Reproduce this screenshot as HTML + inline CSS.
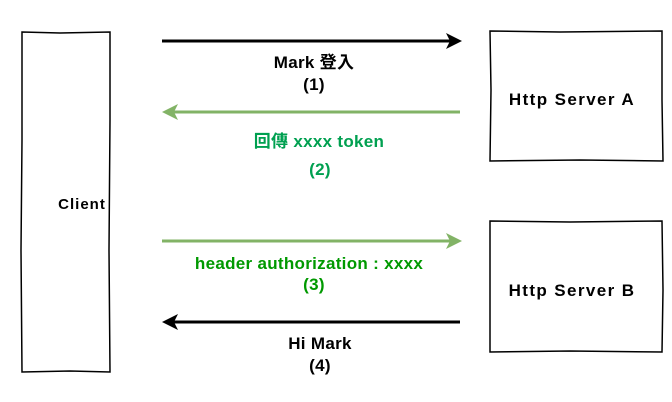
<!DOCTYPE html>
<html><head><meta charset="utf-8"><style>
html,body{margin:0;padding:0;background:#fff;width:672px;height:402px;overflow:hidden}
svg text{font-family:"Liberation Sans","Noto Sans CJK TC",sans-serif;font-weight:bold;font-size:17px;text-anchor:middle;letter-spacing:0.3px}
</style></head><body>
<svg width="672" height="402" xmlns="http://www.w3.org/2000/svg">
<g fill="none" stroke="#000" stroke-width="1.5">
<path d="M22 32 L60 33 L110 32 L110 120 L109 250 L110 372 L70 371 L22 372 L21 250 L22 140 Z"/>
<path d="M490 31 L560 32 L662 31 L662 100 L663 161 L580 160 L490 161 L491 90 Z"/>
<path d="M490 221 L570 222 L662 221 L663 290 L662 352 L570 351 L490 352 L490 290 Z"/>
</g>
<line x1="162" y1="41" x2="452" y2="41" stroke="#000" stroke-width="3"/>
<path d="M462 41 L446 33 L450 41 L446 49 Z" fill="#000"/>
<line x1="170" y1="112" x2="460" y2="112" stroke="#82b366" stroke-width="3"/>
<path d="M162 112 L178 104 L174 112 L178 120 Z" fill="#82b366"/>
<line x1="162" y1="241" x2="452" y2="241" stroke="#82b366" stroke-width="3"/>
<path d="M462 241 L446 233 L450 241 L446 249 Z" fill="#82b366"/>
<line x1="170" y1="322" x2="460" y2="322" stroke="#000" stroke-width="3"/>
<path d="M162 322 L178 314 L174 322 L178 330 Z" fill="#000"/>
<text x="314" y="68">Mark 登入</text>
<text x="314" y="90">(1)</text>
<text x="319" y="147" fill="#00a050">回傳 xxxx token</text>
<text x="320" y="175" fill="#00a050">(2)</text>
<text x="309" y="269" fill="#009900">header authorization : xxxx</text>
<text x="314" y="290" fill="#009900">(3)</text>
<text x="320" y="349">Hi Mark</text>
<text x="320" y="371">(4)</text>
<text x="82" y="209" style="font-size:15px;letter-spacing:1px">Client</text>
<text x="572" y="105" style="letter-spacing:1.4px">Http Server A</text>
<text x="572" y="296" style="letter-spacing:1.4px">Http Server B</text>
</svg>
</body></html>
